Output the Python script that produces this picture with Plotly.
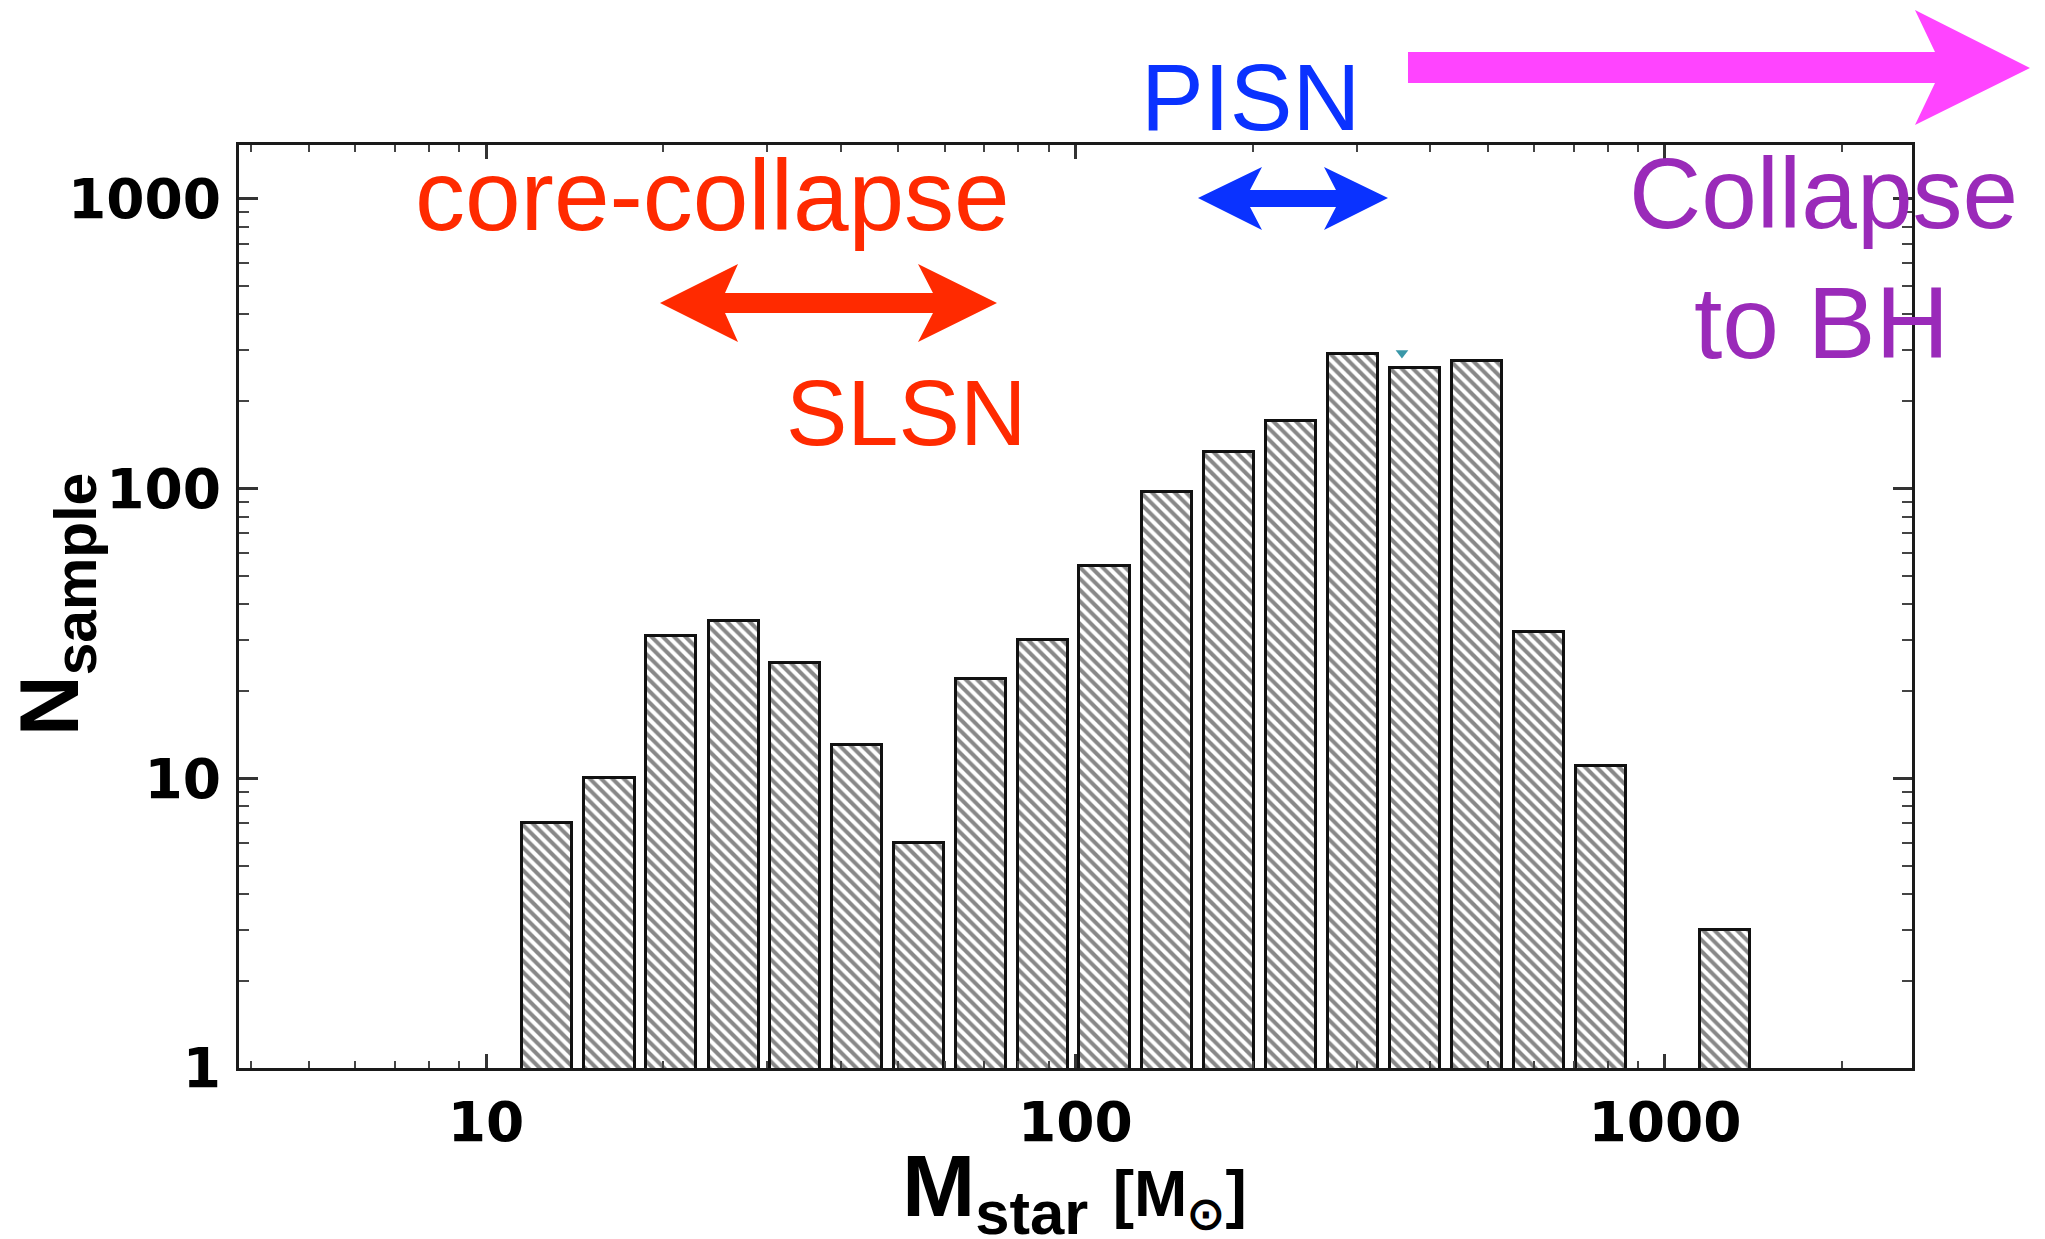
import numpy as np
import plotly.graph_objects as go

# ---------------- data ----------------
mass_bin_centers = [12.7, 16.2, 20.6, 26.3, 33.4, 42.6, 54.3, 69.2, 88.1, 112.0,
                    143.0, 182.0, 232.0, 296.0, 377.0, 480.0, 612.0, 780.0, 1266.0]
n_sample = [7, 10, 31, 35, 25, 13, 6, 22, 30, 54,
            97, 134, 171, 292, 261, 276, 32, 11, 3]
marker_mass = [358.0]
marker_n = [294.0]
x_tick_vals = [10, 100, 1000]
x_tick_text = ["10", "100", "1000"]
y_tick_vals = [1, 10, 100, 1000]
y_tick_text = ["1", "10", "100", "1000"]
x_range_vals = [3.81, 2625.0]
y_range_vals = [1.0, 1535.0]

# ---------------- geometry / style ----------------
W, H = 2045, 1239
ML, MR, MT, MB = 239, 133, 145, 171
PW, PH = W - ML - MR, H - MT - MB
HALF_DEX = 0.0425  # half bar width in dex

def px_to_paper(X, Y):
    return (X - ML) / PW, (H - MB - Y) / PH

def poly_path(points):
    pts = [px_to_paper(x, y) for x, y in points]
    return "M " + " L ".join(f"{a:.5f},{b:.5f}" for a, b in pts) + " Z"

lo = [c * 10 ** (-HALF_DEX) for c in mass_bin_centers]
hi = [c * 10 ** (HALF_DEX) for c in mass_bin_centers]
bar_x = [(a + b) / 2 for a, b in zip(lo, hi)]
bar_w = [b - a for a, b in zip(lo, hi)]

minor_vals = [m * 10 ** d for d in range(0, 4) for m in range(2, 10)]

fig = go.Figure()
fig.add_trace(go.Bar(
    x=bar_x, y=n_sample, width=bar_w,
    marker=dict(color="white",
                line=dict(color="#111111", width=3),
                pattern=dict(shape="\\", fgcolor="#111111", bgcolor="white",
                             size=8, solidity=0.5)),
    showlegend=False, hoverinfo="skip"))
fig.add_trace(go.Scatter(
    x=marker_mass, y=marker_n, mode="markers",
    marker=dict(symbol="triangle-down", size=11, color="#3a97a8"),
    showlegend=False, hoverinfo="skip"))

tickfont = dict(family="DejaVu Sans", size=55, color="black", weight="bold")
axis_common = dict(type="log", showgrid=False, zeroline=False, showline=True,
                   linewidth=3, linecolor="#1a1a1a", mirror="allticks",
                   ticks="inside", tickwidth=2.5, tickcolor="#333333",
                   tickfont=tickfont, tickmode="array")

fig.update_xaxes(**axis_common,
                 range=[np.log10(x_range_vals[0]), np.log10(x_range_vals[1])],
                 tickvals=x_tick_vals, ticktext=x_tick_text, ticklen=14,
                 ticklabelstandoff=4,
                 minor=dict(tickmode="array", tickvals=minor_vals, ticks="inside",
                            ticklen=7, tickwidth=2, tickcolor="#444444"))
fig.update_yaxes(**axis_common,
                 range=[np.log10(y_range_vals[0]), np.log10(y_range_vals[1])],
                 tickvals=y_tick_vals, ticktext=y_tick_text, ticklen=19,
                 ticklabelstandoff=4,
                 minor=dict(tickmode="array", tickvals=minor_vals, ticks="inside",
                            ticklen=10, tickwidth=2, tickcolor="#444444"))

RED, BLUE, MAG, PURPLE = "#ff2a00", "#0a32ff", "#ff44ff", "#9a2ab9"

shapes = [
    dict(type="path", xref="paper", yref="paper", fillcolor=RED, line=dict(width=0),
         path=poly_path([(660, 303), (738, 264), (725, 293), (933, 293), (918, 264),
                         (997, 303), (918, 342), (933, 313), (725, 313), (738, 342)])),
    dict(type="path", xref="paper", yref="paper", fillcolor=BLUE, line=dict(width=0),
         path=poly_path([(1198, 198), (1262, 167), (1250, 190), (1336, 190), (1324, 167),
                         (1388, 198), (1324, 230), (1336, 207), (1250, 207), (1262, 230)])),
    dict(type="path", xref="paper", yref="paper", fillcolor=MAG, line=dict(width=0),
         path=poly_path([(1408, 52), (1935, 52), (1915, 10), (2030, 68), (1915, 125),
                         (1935, 83), (1408, 83)])),
]

def ann(text, X, Y, size, color, bold=False, angle=0, xanchor="center", yanchor="middle"):
    px, py = px_to_paper(X, Y)
    return dict(text=text, x=px, y=py, xref="paper", yref="paper", showarrow=False,
                xanchor=xanchor, yanchor=yanchor, textangle=angle,
                font=dict(family="Liberation Sans", size=size, color=color,
                          weight="bold" if bold else "normal"))

annotations = [
    ann("core-collapse", 712, 195, 100, RED),
    ann("SLSN", 906, 413, 92, RED),
    ann("PISN", 1250, 97, 94, BLUE),
    ann("Collapse", 1823, 193, 100, PURPLE),
    ann("to BH", 1821, 323, 102, PURPLE),
    ann("N<sub>sample</sub>", 55, 605, 84, "black", bold=True, angle=-90),
    ann("M<sub>star</sub> <span style='font-size:64px'>[M<sub>⊙</sub>]</span>",
        1074, 1134, 88, "black", bold=True, yanchor="top"),
]

fig.update_layout(width=W, height=H, margin=dict(l=ML, r=MR, t=MT, b=MB, pad=0),
                  paper_bgcolor="white", plot_bgcolor="white",
                  bargap=0, shapes=shapes, annotations=annotations)

fig.write_html("out.html")
